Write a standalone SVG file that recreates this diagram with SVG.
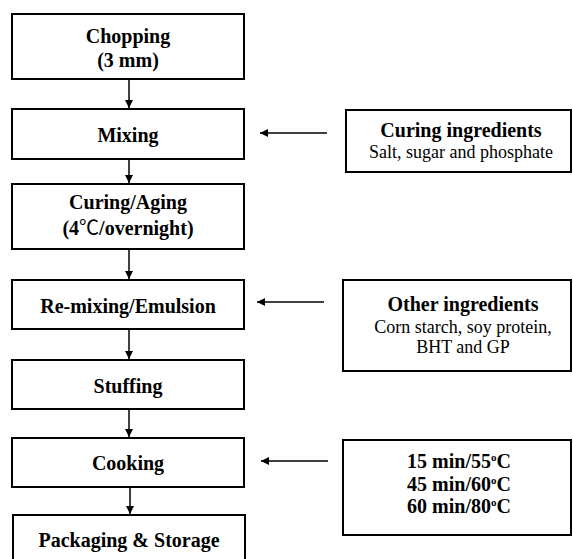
<svg xmlns="http://www.w3.org/2000/svg" width="573" height="559" viewBox="0 0 573 559">
<style>
.box{fill:#fff;stroke:#000;stroke-width:2}
.b{font-family:"Liberation Serif","Times New Roman",Times,serif;font-weight:bold;font-size:20px;text-anchor:middle;fill:#000}
.r{font-family:"Liberation Serif","Times New Roman",Times,serif;font-size:18px;text-anchor:middle;fill:#000}
.cjk{font-family:"Noto Sans CJK KR",sans-serif;font-weight:normal}
.c{stroke:#000;stroke-width:1.5;fill:none;marker-end:url(#ah)}
</style>
<defs>
<marker id="ah" viewBox="0 0 10 10" refX="10" refY="5" markerWidth="8" markerHeight="8" markerUnits="userSpaceOnUse" orient="auto">
<path d="M0,0 L10,5 L0,10 z" fill="#000"/>
</marker>
</defs>
<rect width="573" height="559" fill="#fff"/>
<g id="chopping"><rect class="box" x="12" y="14" width="232" height="65"/><text class="b" x="128" y="43">Chopping</text><text class="b" x="128" y="67">(3 mm)</text></g>
<g id="mixing"><rect class="box" x="12" y="109" width="232" height="50"/><text class="b" x="128" y="142">Mixing</text></g>
<g id="curing"><rect class="box" x="12" y="184" width="232" height="65"/><text class="b" x="128" y="209">Curing/Aging</text><text class="b" x="128" y="235">(4<tspan class="cjk">℃</tspan>/overnight)</text></g>
<g id="remixing"><rect class="box" x="12" y="280" width="232" height="49"/><text class="b" x="128" y="313">Re-mixing/Emulsion</text></g>
<g id="stuffing"><rect class="box" x="12" y="360" width="232" height="49"/><text class="b" x="128" y="393">Stuffing</text></g>
<g id="cooking"><rect class="box" x="12" y="438" width="232" height="49"/><text class="b" x="128" y="470">Cooking</text></g>
<g id="packaging"><rect class="box" x="13" y="515" width="232" height="60"/><text class="b" x="129" y="547">Packaging &amp; Storage</text></g>
<g id="curing-ingredients"><rect class="box" x="346" y="110" width="225" height="62"/><text class="b" x="461" y="137">Curing ingredients</text><text class="r" x="461" y="158">Salt, sugar and phosphate</text></g>
<g id="other-ingredients"><rect class="box" x="343" y="280" width="228" height="91"/><text class="b" x="463" y="311">Other ingredients</text><text class="r" x="463" y="333">Corn starch, soy protein,</text><text class="r" x="463" y="353">BHT and GP</text></g>
<g id="cooking-conditions"><rect class="box" x="343" y="440" width="228" height="95"/>
<text class="b" x="459" y="468">15 min/55<tspan font-size="11" dy="-7">o</tspan><tspan dy="7">C</tspan></text>
<text class="b" x="459" y="491">45 min/60<tspan font-size="11" dy="-7">o</tspan><tspan dy="7">C</tspan></text>
<text class="b" x="459" y="513">60 min/80<tspan font-size="11" dy="-7">o</tspan><tspan dy="7">C</tspan></text></g>
<g id="connectors">
<line class="c" x1="129" y1="80" x2="129" y2="108"/>
<line class="c" x1="129" y1="160" x2="129" y2="183"/>
<line class="c" x1="129" y1="250" x2="129" y2="279"/>
<line class="c" x1="129" y1="330" x2="129" y2="359"/>
<line class="c" x1="129" y1="410" x2="129" y2="437"/>
<line class="c" x1="130" y1="488" x2="130" y2="514"/>
<line class="c" x1="327" y1="133" x2="260" y2="133"/>
<line class="c" x1="324" y1="302" x2="257" y2="302"/>
<line class="c" x1="328" y1="461" x2="261" y2="461"/>
</g>
</svg>
